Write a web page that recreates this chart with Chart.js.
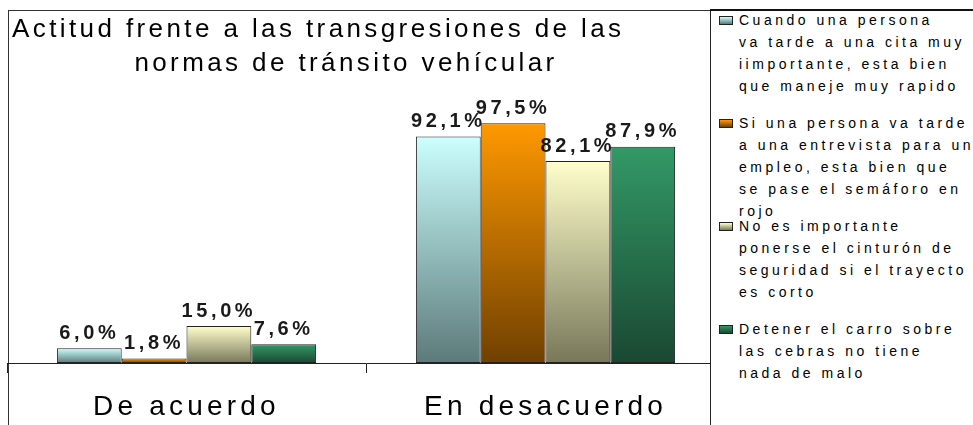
<!DOCTYPE html>
<html>
<head>
<meta charset="utf-8">
<script src="https://cdn.jsdelivr.net/npm/chart.js@4/dist/chart.umd.min.js"></script>
<style>
  html, body { margin: 0; padding: 0; background: #fff; }
  body { width: 973px; height: 425px; overflow: hidden; font-family: "Liberation Sans", Arial, sans-serif; }
  #wrap { position: relative; width: 973px; height: 425px; }
  #frame {
    position: absolute; left: 8px; top: 10px; right: 0; bottom: 0;
    border-left: 1px solid #333; border-top: 1px solid #333;
  }
  canvas { position: absolute; left: 0; top: 0; }
  .title {
    position: absolute; font-size: 26px; line-height: 34px;
    letter-spacing: 3.4px; color: #000; white-space: nowrap;
  }
  #title1 { left: 12px; top: 11px; }
  #title2 { left: 8px; width: 676px; top: 45px; text-align: center; }
  #legend {
    position: absolute; left: 710px; top: 9px; width: 262px; height: 416px;
    background: #fff; border-left: 1px solid #222; border-top: 2px solid #111;
    font-size: 14px; line-height: 22px; letter-spacing: 3.5px; color: #000;
  }
  .entry { position: relative; height: 103px; padding-left: 28px; white-space: nowrap; }
  .entry:first-child { margin-top: -2px; }
  .swatch {
    position: absolute; left: 8px; top: 7px; width: 12px; height: 7px;
    border: 1px solid #222;
  }
</style>
</head>
<body>
<div id="wrap">
  <div id="frame"></div>
  <canvas id="chart" width="973" height="425"></canvas>
  <div class="title" id="title1"></div>
  <div class="title" id="title2"></div>
  <div id="legend"></div>
</div>
<script>
const TITLE_LINES = ['Actitud frente a las transgresiones de las', 'normas de tránsito vehícular'];
const CATEGORIES = ['De acuerdo', 'En desacuerdo'];

// one value per category, in percent
const MANEJAR_RAPIDO = [6.0, 92.1];
const PASAR_SEMAFORO = [1.8, 97.5];
const SIN_CINTURON = [15.0, 82.1];
const PARAR_EN_CEBRA = [7.6, 87.9];

// legend texts, broken into lines as in the original
const LEGEND_LINES = [
  ['Cuando una persona', 'va tarde a una cita muy', 'iimportante, esta bien', 'que maneje muy rapido'],
  ['Si una persona va tarde', 'a una entrevista para un', 'empleo, esta bien que', 'se pase el semáforo en', 'rojo'],
  ['No es importante', 'ponerse el cinturón de', 'seguridad si el trayecto', 'es corto'],
  ['Detener el carro sobre', 'las cebras no tiene', 'nada de malo'],
];

// top and bottom colours of each series gradient
const SERIES_COLORS = [
  ['#ccffff', '#5c7a7a'],
  ['#ff9900', '#704000'],
  ['#ffffcc', '#78785a'],
  ['#339966', '#1a4832'],
];

const FONT = '"Liberation Sans", Arial, sans-serif';

document.getElementById('title1').textContent = TITLE_LINES[0];
document.getElementById('title2').textContent = TITLE_LINES[1];

const legendEl = document.getElementById('legend');
LEGEND_LINES.forEach((lines, i) => {
  const entry = document.createElement('div');
  entry.className = 'entry';
  const sw = document.createElement('span');
  sw.className = 'swatch';
  sw.style.background = `linear-gradient(${SERIES_COLORS[i][0]}, ${SERIES_COLORS[i][1]})`;
  entry.appendChild(sw);
  lines.forEach((line) => {
    const l = document.createElement('div');
    l.textContent = line;
    entry.appendChild(l);
  });
  legendEl.appendChild(entry);
});

function barGradient([top, bottom]) {
  return (context) => {
    const { chart, raw } = context;
    const yScale = chart.scales.y;
    if (!yScale || raw == null) return top;
    const yTop = yScale.getPixelForValue(raw);
    const yBase = yScale.getPixelForValue(0);
    if (!Number.isFinite(yTop) || !Number.isFinite(yBase) || yTop === yBase) return top;
    const g = chart.ctx.createLinearGradient(0, yTop, 0, yBase);
    g.addColorStop(0, top);
    g.addColorStop(1, bottom);
    return g;
  };
}

const fmt = (v) => `${v.toFixed(1).replace('.', ',')}%`;

const valueLabels = {
  id: 'valueLabels',
  beforeDraw(chart) {
    chart.ctx.letterSpacing = '3.4px';
  },
  afterDatasetsDraw(chart) {
    const { ctx } = chart;
    ctx.save();
    ctx.letterSpacing = '3.6px';
    ctx.font = `bold 20px ${FONT}`;
    ctx.fillStyle = '#1a1a1a';
    ctx.textAlign = 'center';
    ctx.textBaseline = 'bottom';
    chart.data.datasets.forEach((ds, i) => {
      chart.getDatasetMeta(i).data.forEach((bar, j) => {
        ctx.fillText(fmt(ds.data[j]), bar.x, bar.y - 5);
      });
    });
    ctx.restore();
    // the category labels are drawn after the datasets (ticks.z = 1) and use this spacing
    ctx.letterSpacing = '4.2px';
  },
};

const seriesData = [MANEJAR_RAPIDO, PASAR_SEMAFORO, SIN_CINTURON, PARAR_EN_CEBRA];

new Chart(document.getElementById('chart'), {
  type: 'bar',
  data: {
    labels: CATEGORIES,
    datasets: seriesData.map((data, i) => ({
      label: LEGEND_LINES[i].join(' '),
      data,
      backgroundColor: barGradient(SERIES_COLORS[i]),
      borderColor: '#222',
      borderWidth: 1,
      borderSkipped: false,
      categoryPercentage: 0.722,
      barPercentage: 1,
    })),
  },
  options: {
    responsive: false,
    animation: false,
    layout: {
      padding: { top: 117, left: 7, right: 248, bottom: 0 },
    },
    plugins: {
      legend: { display: false },
      title: { display: false },
      tooltip: { enabled: false },
    },
    scales: {
      x: {
        // keep the axis band the same height as in the original
        afterFit: (scale) => { scale.height = 62; },
        grid: {
          display: true,
          drawOnChartArea: false,
          drawTicks: true,
          tickLength: 10,
          color: '#222',
          offset: true,
        },
        border: { display: true, color: '#222', width: 1 },
        ticks: {
          z: 1,
          color: '#000',
          padding: 17,
          maxRotation: 0,
          autoSkip: false,
          font: { family: FONT, size: 28 },
        },
      },
      y: {
        display: false,
        min: 0,
        max: 100,
      },
    },
  },
  plugins: [valueLabels],
});
</script>
</body>
</html>
